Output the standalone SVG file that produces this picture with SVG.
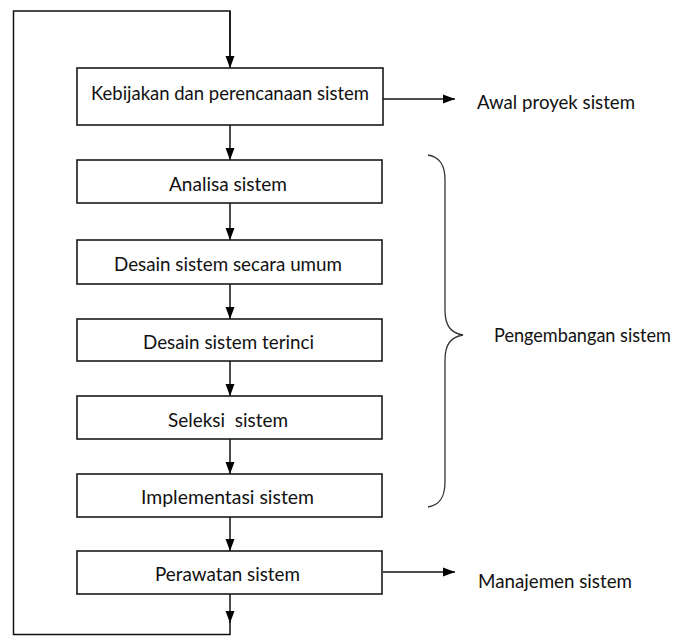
<svg xmlns="http://www.w3.org/2000/svg" width="681" height="636" viewBox="0 0 681 636">
<defs>
<marker id="ah" viewBox="0 0 12 10" refX="12" refY="5" markerWidth="12" markerHeight="10" markerUnits="userSpaceOnUse" orient="auto">
<path d="M0,0.5 L12,5 L0,9.5 Z" fill="#000"/>
</marker>
<style>
.box{fill:#fff;stroke:#1a1a1a;stroke-width:1.6}
.t{font-family:Lato,"Liberation Sans",sans-serif;font-size:20px;fill:#111;text-anchor:middle}
.l{font-family:Lato,"Liberation Sans",sans-serif;font-size:20px;fill:#111}
.c{fill:none;stroke:#111;stroke-width:1.5}
.a{fill:none;stroke:#111;stroke-width:1.5;marker-end:url(#ah)}
</style>
</defs>
<rect width="681" height="636" fill="#fff"/>
<g id="connectors">
<path class="a" d="M230,594 V623"/>
<path class="c" d="M230,620 V634.5 H13.5 V11 H230 V58"/>
<path class="a" d="M230,11 V68"/>
<path class="a" d="M230,125 V160"/>
<path class="a" d="M230,203 V240"/>
<path class="a" d="M230,284 V319"/>
<path class="a" d="M230,361 V396"/>
<path class="a" d="M230,439 V474"/>
<path class="a" d="M230,517 V551"/>
<path class="a" d="M383,99 H455"/>
<path class="a" d="M383,572 H455"/>
<path d="M428,155 C440,157 445,165 445,180 V310 C445,326 451,333 463,335 C451,337 445,344 445,360 V482 C445,497 440,505 428,507" fill="none" stroke="#333" stroke-width="1.3"/>
</g>
<g id="n1"><rect class="box" x="77" y="68" width="306" height="57"/><text class="t" x="230" y="100" textLength="278" lengthAdjust="spacingAndGlyphs">Kebijakan dan perencanaan sistem</text></g>
<g id="n2"><rect class="box" x="77" y="160" width="305" height="43"/><text class="t" x="228" y="191" textLength="118" lengthAdjust="spacingAndGlyphs">Analisa sistem</text></g>
<g id="n3"><rect class="box" x="77" y="240" width="305" height="44"/><text class="t" x="228" y="271" textLength="228" lengthAdjust="spacingAndGlyphs">Desain sistem secara umum</text></g>
<g id="n4"><rect class="box" x="77" y="319" width="305" height="42"/><text class="t" x="228.5" y="349" textLength="171" lengthAdjust="spacingAndGlyphs">Desain sistem terinci</text></g>
<g id="n5"><rect class="box" x="77" y="396" width="305" height="43"/><text class="t" x="228" y="427" textLength="120" lengthAdjust="spacingAndGlyphs" xml:space="preserve">Seleksi  sistem</text></g>
<g id="n6"><rect class="box" x="77" y="474" width="305" height="43"/><text class="t" x="227.5" y="504" textLength="173" lengthAdjust="spacingAndGlyphs">Implementasi sistem</text></g>
<g id="n7"><rect class="box" x="77" y="551" width="305" height="43"/><text class="t" x="227.5" y="581" textLength="145" lengthAdjust="spacingAndGlyphs">Perawatan sistem</text></g>
<g id="lbl1"><text class="l" x="477" y="109" textLength="158" lengthAdjust="spacingAndGlyphs">Awal proyek sistem</text></g>
<g id="lbl2"><text class="l" x="494" y="342" style="font-size:18.5px" textLength="177" lengthAdjust="spacingAndGlyphs">Pengembangan sistem</text></g>
<g id="lbl3"><text class="l" x="478" y="588" textLength="154" lengthAdjust="spacingAndGlyphs">Manajemen sistem</text></g>
</svg>
